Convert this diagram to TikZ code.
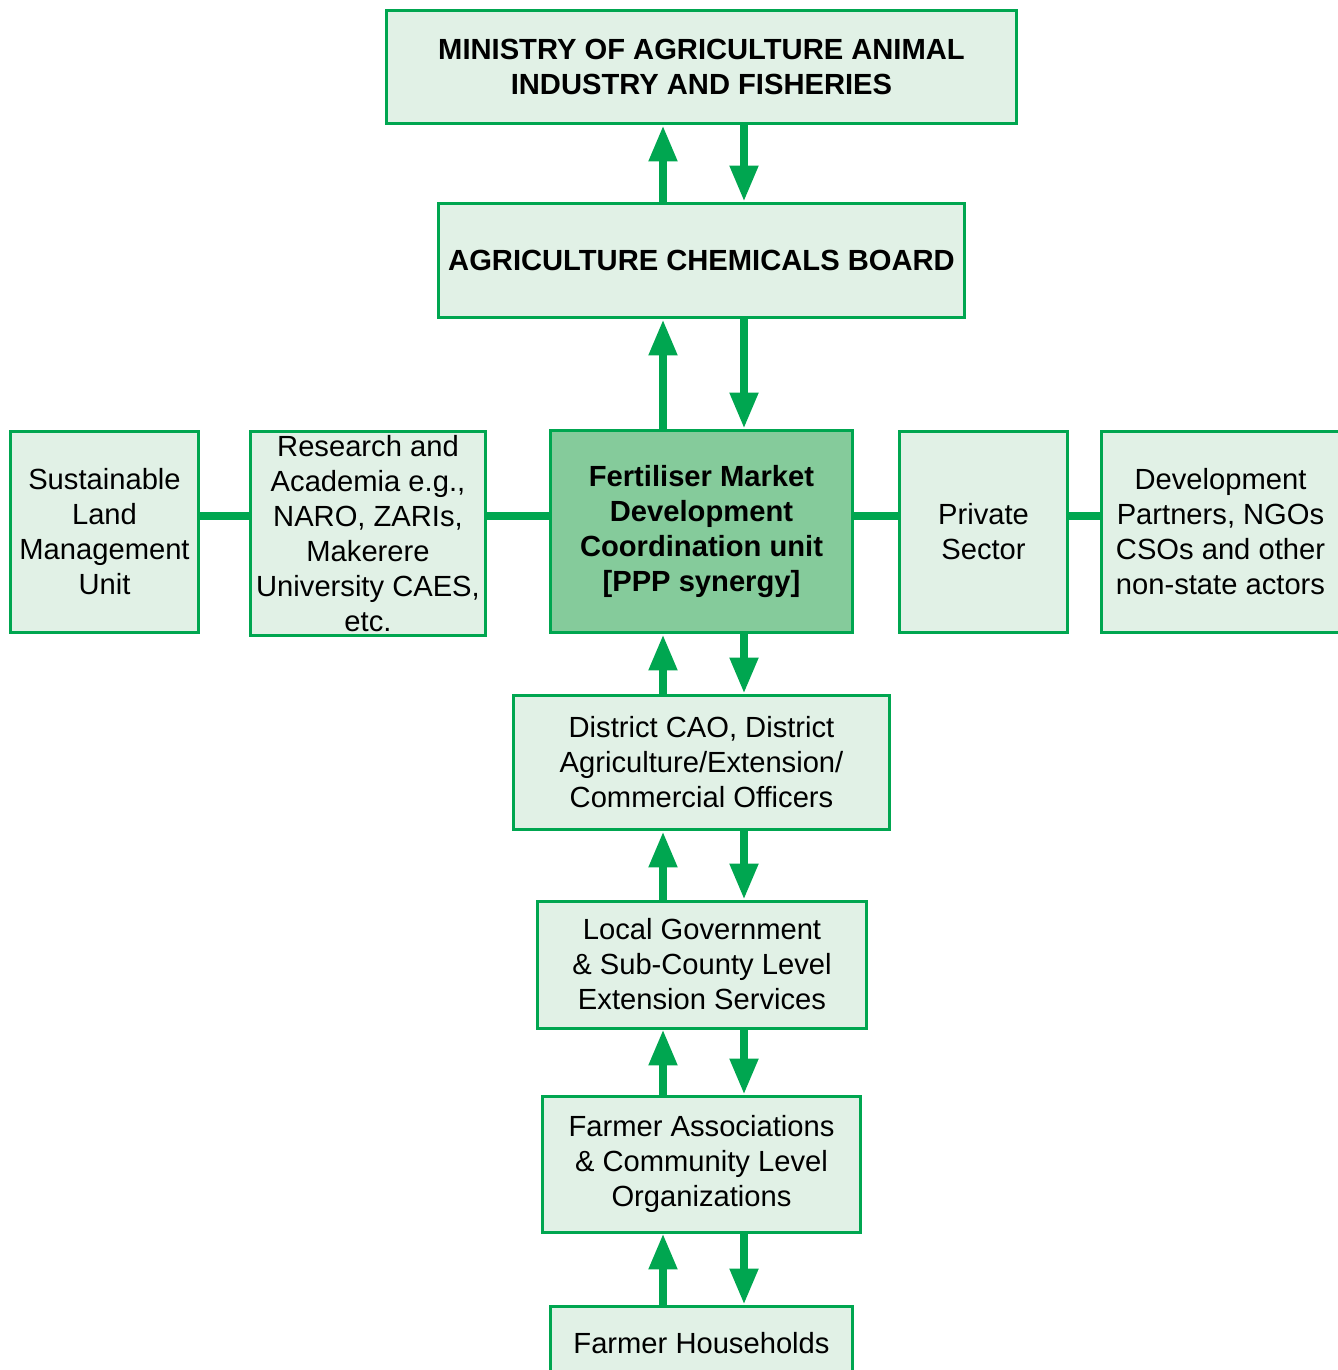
\documentclass[tikz,border=0pt]{standalone}
\usepackage{fontspec}
\setmainfont{Liberation Sans}
\usetikzlibrary{arrows.meta}
\definecolor{frame}{HTML}{00A650}
\definecolor{pale}{HTML}{E1F1E6}
\definecolor{hubfill}{HTML}{85CB9B}
\begin{document}
\begin{tikzpicture}[x=0.02cm, y=-0.02cm,
	box/.style = {draw = frame, line width = 0.06cm, fill = pale, inner sep = 0pt, align = center, font = \fontsize{16.6}{19.9}\selectfont},
	hub/.style = {box, fill = hubfill, font = \fontsize{16.6}{19.9}\selectfont\bfseries},
	link/.style = {draw = frame, line width = 0.16cm},
	flow/.style = {draw = frame, line width = 0.16cm, -{Triangle[width=0.54cm, length=0.72cm]}, fill = frame}]
	\useasboundingbox (0,0) rectangle (1338,1370);
	% boxes
	\node [box, minimum width = 12.62cm, minimum height = 2.28cm, font = \fontsize{16.6}{19.9}\selectfont\bfseries] (ministry) at (701.5,67) {MINISTRY OF AGRICULTURE ANIMAL\\INDUSTRY AND FISHERIES};
	\node [box, minimum width = 10.54cm, minimum height = 2.30cm, font = \fontsize{16.6}{19.9}\selectfont\bfseries] (board) at (701.5,260.5) {AGRICULTURE CHEMICALS BOARD};
	\node [hub, minimum width = 6.06cm, minimum height = 4.06cm] (unit) at (701.5,531.5) {Fertiliser Market\\Development\\Coordination unit\\{}[PPP synergy]};
	\node [box, minimum width = 3.78cm, minimum height = 4.04cm] (land) at (104.5,532) {Sustainable\\Land\\Management\\Unit};
	\node [box, minimum width = 4.72cm, minimum height = 4.10cm] (research) at (368,533.5) {Research and\\Academia e.g.,\\NARO, ZARIs,\\Makerere\\University CAES,\\etc.};
	\node [box, minimum width = 3.38cm, minimum height = 4.04cm] (private) at (983.5,532) {Private\\Sector};
	\node [box, minimum width = 4.88cm, minimum height = 4.04cm] (partners) at (1223,532) {\hspace*{-0.1cm}Development\\\hspace*{-0.1cm}Partners, NGOs\\\hspace*{-0.1cm}CSOs and other\\\hspace*{-0.1cm}non-state actors};
	\node [box, minimum width = 7.54cm, minimum height = 2.70cm] (district) at (701.5,762.5) {District CAO, District\\Agriculture/Extension/\\Commercial Officers};
	\node [box, minimum width = 6.60cm, minimum height = 2.54cm] (local) at (702,964.5) {Local Government\\\& Sub-County Level\\Extension Services};
	\node [box, minimum width = 6.38cm, minimum height = 2.72cm] (assoc) at (701.5,1164) {Farmer Associations\\\& Community Level\\Organizations};
	\node [box, minimum width = 6.06cm, minimum height = 1.48cm] (homes) at (701.5,1343) {Farmer Households};
	% side links
	\draw [link] (land.east |- 0,516) -- (research.west |- 0,516);
	\draw [link] (research.east |- 0,516) -- (unit.west |- 0,516);
	\draw [link] (unit.east |- 0,516) -- (private.west |- 0,516);
	\draw [link] (private.east |- 0,516) -- (partners.west |- 0,516);
	% up and down
	\draw [flow] (board.north -| 663,0) -- (ministry.south -| 663,0);
	\draw [flow] (ministry.south -| 744,0) -- (board.north -| 744,0);
	\draw [flow] (unit.north -| 663,0) -- (board.south -| 663,0);
	\draw [flow] (board.south -| 744,0) -- (unit.north -| 744,0);
	\draw [flow] (district.north -| 663,0) -- (unit.south -| 663,0);
	\draw [flow] (unit.south -| 744,0) -- (district.north -| 744,0);
	\draw [flow] (local.north -| 663,0) -- (district.south -| 663,0);
	\draw [flow] (district.south -| 744,0) -- (local.north -| 744,0);
	\draw [flow] (assoc.north -| 663,0) -- (local.south -| 663,0);
	\draw [flow] (local.south -| 744,0) -- (assoc.north -| 744,0);
	\draw [flow] (homes.north -| 663,0) -- (assoc.south -| 663,0);
	\draw [flow] (assoc.south -| 744,0) -- (homes.north -| 744,0);
\end{tikzpicture}
\end{document}
